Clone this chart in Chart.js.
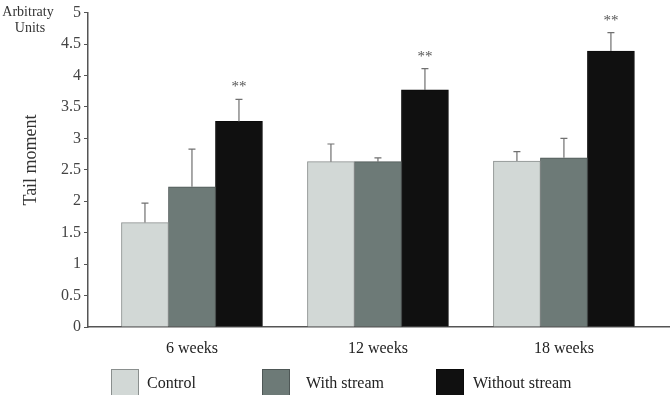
<!DOCTYPE html>
<html>
<head>
<meta charset="utf-8">
<script src="https://cdn.jsdelivr.net/npm/chart.js@4.4.1/dist/chart.umd.min.js"></script>
<style>
  html, body { margin: 0; padding: 0; background: #fff; }
  #wrap { width: 672px; height: 395px; overflow: hidden; }
</style>
</head>
<body>
<div id="wrap"><canvas id="c" width="672" height="395"></canvas></div>
<script>
// ── data ──────────────────────────────────────────────
const categories   = ['6 weeks', '12 weeks', '18 weeks'];
const groupPos     = [1, 2, 3];
const seriesNames  = ['Control', 'With stream', 'Without stream'];
const controlVals  = [1.66, 2.63, 2.64];
const withVals     = [2.23, 2.63, 2.69];
const withoutVals  = [3.27, 3.77, 4.39];
const controlErr   = [0.31, 0.28, 0.15];
const withErr      = [0.60, 0.06, 0.31];
const withoutErr   = [0.35, 0.34, 0.29];
const withoutStars = ['**', '**', '**'];
const yTicks       = [0, 0.5, 1, 1.5, 2, 2.5, 3, 3.5, 4, 4.5, 5];

const SERIF = "'Liberation Serif', 'DejaVu Serif', serif";
const FILLS   = ['#d2d8d6', '#6d7a77', '#101010'];
const BORDERS = ['#8a8f8e', '#4e5756', '#0a0a0a'];

const allVals = [controlVals, withVals, withoutVals];
const allErrs = [controlErr, withErr, withoutErr];
const allStars = [null, null, withoutStars];

const datasets = seriesNames.map((name, i) => ({
  label: name,
  data: groupPos.map((x, j) => ({ x, y: allVals[i][j] })),
  backgroundColor: FILLS[i],
  borderColor: BORDERS[i],
  borderWidth: 1,
  barThickness: 47,
  errs: allErrs[i],
  stars: allStars[i],
}));

// error whiskers, ** marks, corner label and the legend
const extras = {
  id: 'extras',
  afterDatasetsDraw(chart) {
    const ctx = chart.ctx;
    const y = chart.scales.y;
    ctx.save();
    chart.data.datasets.forEach((ds, i) => {
      const meta = chart.getDatasetMeta(i);
      meta.data.forEach((bar, j) => {
        const top = y.getPixelForValue(ds.data[j].y + ds.errs[j]);
        ctx.strokeStyle = '#707070';
        ctx.lineWidth = 1.2;
        ctx.beginPath();
        ctx.moveTo(bar.x, bar.y);
        ctx.lineTo(bar.x, top);
        ctx.moveTo(bar.x - 3.5, top);
        ctx.lineTo(bar.x + 3.5, top);
        ctx.stroke();
        if (ds.stars && ds.stars[j]) {
          ctx.fillStyle = '#555';
          ctx.font = '15px ' + SERIF;
          ctx.textAlign = 'center';
          ctx.textBaseline = 'middle';
          ctx.fillText(ds.stars[j], bar.x, top - 12);
        }
      });
    });
    ctx.restore();
  },
  afterDraw(chart) {
    const ctx = chart.ctx;
    ctx.save();
    ctx.fillStyle = '#333';
    ctx.font = '14px ' + SERIF;
    ctx.textAlign = 'center';
    ctx.textBaseline = 'middle';
    ctx.fillText('Arbitraty', 28, 12);
    ctx.fillText('Units', 30, 28);

    // legend
    const boxX = [111, 262, 436];
    const textX = [147, 306, 473];
    ctx.font = '16px ' + SERIF;
    ctx.textAlign = 'left';
    chart.data.datasets.forEach((ds, i) => {
      ctx.fillStyle = ds.backgroundColor;
      ctx.fillRect(boxX[i], 369, 27, 28);
      ctx.strokeStyle = ds.borderColor;
      ctx.lineWidth = 1;
      ctx.strokeRect(boxX[i] + 0.5, 369.5, 27, 28);
      ctx.fillStyle = '#222';
      ctx.fillText(ds.label, textX[i], 384);
    });

    // axis title
    ctx.translate(31, 160);
    ctx.rotate(-Math.PI / 2);
    ctx.font = '18px ' + SERIF;
    ctx.fillStyle = '#333';
    ctx.textAlign = 'center';
    ctx.fillText('Tail moment', 0, 0);
    ctx.restore();
  }
};

new Chart(document.getElementById('c'), {
  type: 'bar',
  data: { datasets },
  options: {
    responsive: false,
    devicePixelRatio: 1,
    animation: false,
    layout: { padding: { top: 2, right: 3, left: 0, bottom: 0 } },
    plugins: { legend: { display: false }, tooltip: { enabled: false } },
    scales: {
      x: {
        type: 'linear',
        offset: false,
        min: 0.441,
        max: 3.565,
        afterFit: (s) => { s.height = 68; },
        afterBuildTicks: (s) => { s.ticks = groupPos.map(v => ({ value: v })); },
        grid: { display: false, offset: false },
        border: { display: true, color: '#555', width: 1.5 },
        ticks: {
          padding: 4,
          color: '#222',
          font: { family: SERIF, size: 16 },
          callback: (v) => categories[groupPos.indexOf(v)],
        },
      },
      y: {
        min: 0,
        max: 5,
        afterFit: (s) => { s.width = 88; },
        afterBuildTicks: (s) => { s.ticks = yTicks.map(v => ({ value: v })); },
        grid: { drawOnChartArea: false, drawTicks: true, tickLength: 4, color: '#555' },
        border: { display: true, color: '#555', width: 1.5 },
        ticks: {
          padding: 3,
          color: '#444',
          font: { family: SERIF, size: 16 },
          callback: (v) => String(v),
        },
      },
    },
  },
  plugins: [extras],
});
</script>
</body>
</html>
